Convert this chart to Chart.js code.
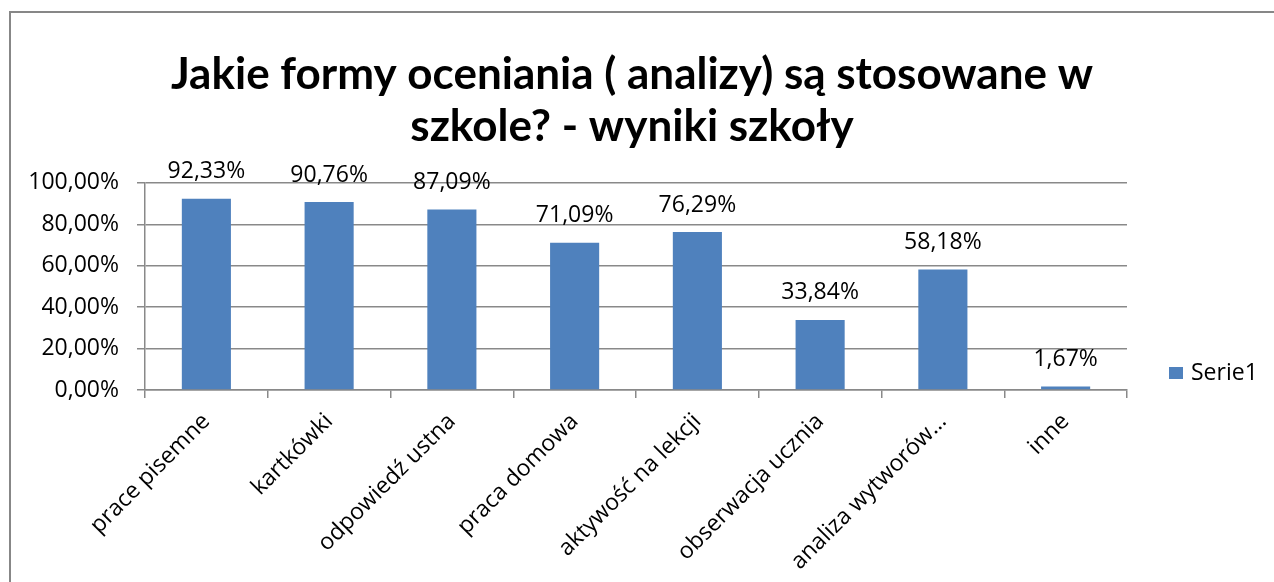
<!DOCTYPE html>
<html>
<head>
<meta charset="utf-8">
<script src="https://cdn.jsdelivr.net/npm/chart.js@4.4.1/dist/chart.umd.min.js"></script>
<style>
  html, body { margin: 0; padding: 0; background: #fff; overflow: hidden; }
  #wrap { position: relative; width: 1274px; height: 582px; }
  #frame { position: absolute; left: 9px; top: 11px; width: 1400px; height: 800px;
           border-left: 2px solid #878787; border-top: 2px solid #878787; pointer-events: none; }
</style>
</head>
<body>
<div id="wrap">
  <canvas id="chart" width="1274" height="582"></canvas>
  <div id="frame"></div>
</div>
<script>
// ─── Data ─────────────────────────────────────────────────────────
const titleLines = ['Jakie formy oceniania ( analizy) są stosowane w', 'szkole? - wyniki szkoły'];
const categories = [
    'prace pisemne',
    'kartkówki',
    'odpowiedź ustna',
    'praca domowa',
    'aktywość na lekcji',
    'obserwacja ucznia',
    'analiza wytworów…',
    'inne',
];
const values = [92.33, 90.76, 87.09, 71.09, 76.29, 33.84, 58.18, 1.67];
const yTicks = [0, 20, 40, 60, 80, 100];
const seriesName = 'Serie1';

const BAR = '#4F81BD';
const GRID = '#898989';
const FONT = "'Open Sans', sans-serif";

const pct = (v) => v.toFixed(2).replace('.', ',') + '%';

// ─── Value labels above bars ─────────────────────────────────────
const valueLabels = {
    id: 'valueLabels',
    afterDatasetsDraw(chart) {
        const { ctx } = chart;
        const meta = chart.getDatasetMeta(0);
        ctx.save();
        ctx.font = '23px ' + FONT;
        ctx.fillStyle = '#000';
        ctx.textAlign = 'center';
        ctx.textBaseline = 'middle';
        meta.data.forEach((bar, i) => {
            ctx.fillText(pct(values[i]), bar.x, bar.y - 27);
        });
        ctx.restore();
    },
};

// ─── Legend drawn at the right, Excel style ──────────────────────
const sideLegend = {
    id: 'sideLegend',
    afterDraw(chart) {
        const { ctx } = chart;
        ctx.save();
        ctx.fillStyle = BAR;
        ctx.fillRect(1169, 367, 14, 12);
        ctx.fillStyle = '#000';
        ctx.font = '23px ' + FONT;
        ctx.textBaseline = 'middle';
        ctx.fillText(chart.data.datasets[0].label, 1191, 373);
        ctx.restore();
    },
};

new Chart(document.getElementById('chart'), {
    type: 'bar',
    data: {
        labels: categories,
        datasets: [{
            label: seriesName,
            data: values,
            backgroundColor: BAR,
            barPercentage: 0.4,
            categoryPercentage: 1,
        }],
    },
    options: {
        responsive: false,
        animation: false,
        layout: { padding: { left: 0, right: 10, top: 0, bottom: 0 } },
        plugins: {
            legend: { display: false },
            tooltip: { enabled: false },
            title: {
                display: true,
                text: titleLines,
                color: '#000',
                font: { family: 'Lato, sans-serif', size: 44, weight: 'bold', lineHeight: 1.18 },
                padding: { top: 49, bottom: 30 },
            },
        },
        scales: {
            x: {
                grid: { drawOnChartArea: false, color: GRID, lineWidth: 1.5, tickLength: 8 },
                border: { color: GRID, width: 1.5 },
                ticks: {
                    color: '#000',
                    font: { family: FONT, size: 23 },
                    minRotation: 45,
                    maxRotation: 45,
                    autoSkip: false,
                    padding: 10,
                },
                afterFit: (scale) => { scale.height = 192; },
            },
            y: {
                min: 0,
                max: 100,
                afterBuildTicks: (scale) => { scale.ticks = yTicks.map((v) => ({ value: v })); },
                grid: { color: GRID, lineWidth: 1.5, tickLength: 8 },
                border: { color: GRID, width: 1.5 },
                ticks: {
                    color: '#000',
                    font: { family: FONT, size: 23 },
                    padding: 18,
                    callback: (v) => pct(v),
                },
                afterFit: (scale) => { scale.width = 145; },
            },
            // empty right-hand gutter that holds the legend
            gutter: {
                type: 'linear',
                position: 'right',
                display: true,
                grid: { display: false },
                border: { display: false },
                ticks: { display: false },
                afterFit: (scale) => { scale.width = 137; },
            },
        },
    },
    plugins: [valueLabels, sideLegend],
});
</script>
</body>
</html>
